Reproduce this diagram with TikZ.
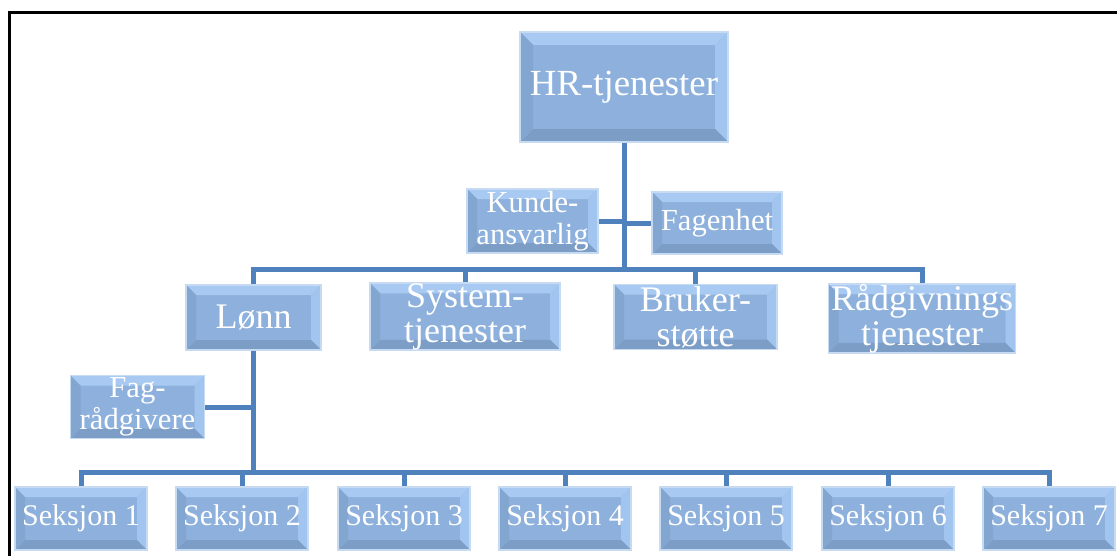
\documentclass[tikz,border=0pt]{standalone}
\usepackage{fontspec}
\setmainfont{Liberation Serif}
\usepackage{tikz}
\usetikzlibrary{calc}
\definecolor{boxface}{HTML}{8DB1DC}
\definecolor{bvtop}{HTML}{A8CAF2}
\definecolor{bvright}{HTML}{A2C5EF}
\definecolor{bvbottom}{HTML}{7B9DC6}
\definecolor{bvleft}{HTML}{83A6D0}
\definecolor{boxrim}{HTML}{C6DBF2}
\definecolor{linkblue}{HTML}{4F81BD}

\begin{document}
\begin{tikzpicture}[
  x=0.5pt, y=-0.5pt,
  conn/.style = {line width=2.5pt, linkblue},
  bevelled/.style = {path picture={
      \fill[bvtop] (path picture bounding box.north west) -- (path picture bounding box.north east)
        -- ([shift={(-#1,-#1)}]path picture bounding box.north east) -- ([shift={(#1,-#1)}]path picture bounding box.north west) -- cycle;
      \fill[bvright] (path picture bounding box.north east) -- (path picture bounding box.south east)
        -- ([shift={(-#1,#1)}]path picture bounding box.south east) -- ([shift={(-#1,-#1)}]path picture bounding box.north east) -- cycle;
      \fill[bvbottom] (path picture bounding box.south east) -- (path picture bounding box.south west)
        -- ([shift={(#1,#1)}]path picture bounding box.south west) -- ([shift={(-#1,#1)}]path picture bounding box.south east) -- cycle;
      \fill[bvleft] (path picture bounding box.south west) -- (path picture bounding box.north west)
        -- ([shift={(#1,-#1)}]path picture bounding box.north west) -- ([shift={(#1,#1)}]path picture bounding box.south west) -- cycle;
    }},
  orgbox/.style = {rectangle, fill=boxface, draw=boxrim, line width=0.8pt, inner sep=0pt,
                   text=white, align=center, bevelled=5pt},
  topbox/.style = {orgbox, bevelled=6.5pt, minimum width=104pt, minimum height=55pt,
                   font=\fontsize{18.4}{20}\selectfont},
  unitbox/.style = {orgbox, minimum height=32.5pt, font=\fontsize{18}{17.5}\selectfont},
  staffbox/.style = {orgbox, minimum height=32pt, font=\fontsize{15.3}{16}\selectfont},
  seksbox/.style = {orgbox, minimum width=66pt, minimum height=31.5pt, font=\fontsize{15}{16}\selectfont},
]
\useasboundingbox (0,0) rectangle (1117,556);
% Frame
\draw[line width=1.5pt] (9,556) -- (9,13) -- (1117,13);

% Top
\node[topbox] (hr) at (624,87) {HR-tjenester};
\node[staffbox, minimum width=65.5pt] (kunde) at (532.5,221) {Kunde-\\ansvarlig};
\node[staffbox, minimum width=65pt, minimum height=31pt] (fagenhet) at (717,223) {Fagenhet};

% Units
\node[unitbox, minimum width=67.5pt] (lonn) at (253.5,317.5) {Lønn};
\node[unitbox, minimum width=95pt] (system) at (465,316.5) {System-\\tjenester};
\node[unitbox, minimum width=81.5pt] (bruker) at (695.5,317) {Bruker-\\støtte};
\node[unitbox, minimum width=93.5pt, minimum height=34pt] (radgiv) at (922,318.5) {Rådgivnings\\tjenester};

% Under Lønn
\node[staffbox, minimum width=67pt, minimum height=31.5pt] (fagrad) at (137.5,407) {Fag-\\rådgivere};
\foreach \i/\x in {1/81,2/242,3/404,4/565,5/726,6/888,7/1049}
  \node[seksbox] (s\i) at (\x,518.5) {Seksjon \i};

% Connectors
\coordinate (topbar) at (624,269);
\coordinate (lowbar) at (253.5,472);
\draw[conn] (hr.south) -- (topbar);
\draw[conn] (kunde.east) -- (kunde.east -| hr.south);
\draw[conn] (fagenhet.west) -- (fagenhet.west -| hr.south);
\draw[conn] (lonn.north) |- (radgiv.north |- topbar) -- (radgiv.north);
\draw[conn] (system.north) -- (system.north |- topbar);
\draw[conn] (bruker.north) -- (bruker.north |- topbar);
\draw[conn] (lonn.south) -- (lowbar);
\draw[conn] (fagrad.east) -- (fagrad.east -| lonn.south);
\draw[conn] (s1.north) |- (s7.north |- lowbar) -- (s7.north);
\foreach \i in {2,...,6}
  \draw[conn] (s\i.north) -- (s\i.north |- lowbar);
\end{tikzpicture}
\end{document}
